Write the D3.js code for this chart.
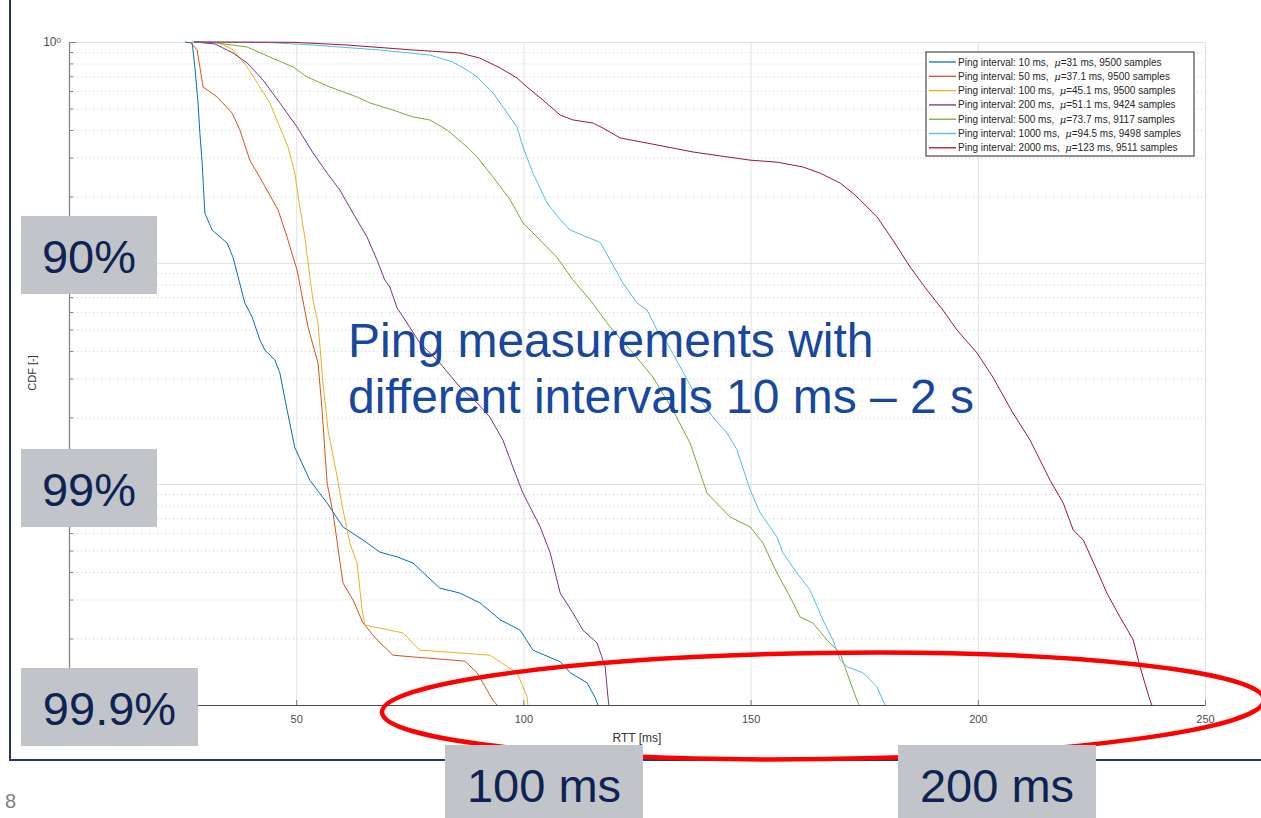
<!DOCTYPE html>
<html>
<head>
<meta charset="utf-8">
<script src="https://cdn.jsdelivr.net/npm/d3@7"></script>
<style>
  body { margin: 0; background: #fff; }
  svg { display: block; font-family: "Liberation Sans", Arial, sans-serif; }
</style>
</head>
<body>
<div id="chart"></div>
<script>
// Data: RTT [ms] vs. 1-CDF (log scale)
var intervals = [10, 50, 100, 200, 500, 1000, 2000];
var means = [31, 37.1, 45.1, 51.1, 73.7, 94.5, 123];
var sampleCounts = [9500, 9500, 9500, 9424, 9117, 9498, 9511];
var xTicks = [50, 100, 150, 200, 250];
var yTicks = [1e-3, 1e-2, 1e-1, 1];

var ping10 = [[25.5,1],[27.1,0.99],[27.7,0.771],[28.4,0.53],[28.8,0.388],[29.3,0.284],[29.9,0.168],[31.5,0.141],[34.8,0.123],[36.1,0.106],[38.7,0.0659],[40.3,0.057],[42.0,0.0449],[43.1,0.0404],[45.3,0.0364],[46.4,0.0318],[48.0,0.0216],[49.7,0.0146],[53.0,0.0104],[56.8,0.0082],[60.3,0.00639],[64.7,0.00558],[68.4,0.00492],[72.2,0.00468],[75.7,0.00439],[81.6,0.00338],[86.0,0.00321],[90.4,0.0029],[94.9,0.00243],[99.3,0.00218],[102.1,0.00177],[108.1,0.00157],[110.3,0.0014],[114.0,0.00126],[115.8,0.00108],[116.4,0.001]];
var ping50 = [[26.6,1],[28.2,0.92],[29.5,0.626],[32.6,0.564],[35.9,0.477],[37.6,0.4],[39.8,0.292],[42.7,0.23],[46.0,0.174],[48.0,0.131],[49.7,0.1],[50.2,0.0929],[52.6,0.0513],[54.8,0.0353],[55.7,0.0216],[56.8,0.0101],[58.1,0.0074],[60.3,0.00356],[62.5,0.00299],[64.7,0.00235],[67.8,0.00197],[71.3,0.00168],[75.7,0.00165],[87.1,0.00158],[89.8,0.0014],[93.3,0.00105],[94.2,0.001]];
var ping100 = [[27.5,1],[33.2,0.99],[36.1,0.92],[39.2,0.771],[42.0,0.626],[44.2,0.53],[46.4,0.412],[48.2,0.335],[49.7,0.255],[50.8,0.179],[51.9,0.131],[53.0,0.0864],[53.7,0.068],[54.8,0.0535],[55.9,0.0286],[57.0,0.0176],[59.0,0.0108],[60.3,0.00763],[61.8,0.00541],[63.4,0.00439],[64.5,0.00269],[65.1,0.0023],[73.5,0.00212],[77.2,0.00177],[86.0,0.00172],[92.6,0.00168],[98.6,0.0014],[100.8,0.00109],[101.0,0.001]];
var ping200 = [[27.5,1],[32.1,0.98],[36.1,0.892],[39.2,0.804],[42.7,0.673],[46.4,0.53],[50.2,0.412],[53.7,0.315],[56.8,0.255],[59.6,0.214],[62.5,0.168],[65.6,0.131],[67.8,0.103],[69.5,0.0838],[70.6,0.0779],[72.2,0.0626],[74.4,0.0535],[77.2,0.0435],[81.6,0.0353],[86.0,0.0275],[89.8,0.0233],[92.6,0.0201],[95.5,0.0158],[97.7,0.0119],[99.9,0.0091],[103.7,0.00639],[105.9,0.00488],[108.1,0.00321],[110.9,0.00261],[113.1,0.00218],[116.2,0.00191],[118.0,0.00149],[118.6,0.00109],[118.8,0.001]];
var ping500 = [[27.5,1],[31.7,0.995],[39.2,0.949],[44.2,0.855],[49.3,0.771],[52.4,0.695],[57.4,0.626],[63.4,0.564],[66.2,0.53],[71.3,0.492],[75.7,0.458],[79.4,0.444],[83.2,0.4],[87.6,0.335],[89.8,0.302],[93.3,0.245],[97.1,0.193],[99.9,0.152],[103.0,0.131],[107.4,0.106],[110.9,0.0838],[114.7,0.068],[119.1,0.0513],[124.1,0.0392],[128.5,0.0305],[132.9,0.0216],[136.7,0.0153],[140.4,0.0091],[145.5,0.00709],[149.9,0.00639],[152.7,0.00541],[155.8,0.00396],[158.7,0.00308],[160.9,0.0025],[163.7,0.00235],[166.8,0.00197],[169.7,0.00172],[171.2,0.0014],[173.4,0.00105],[173.9,0.001]];
var ping1000 = [[27,1],[43.6,0.995],[53.7,0.969],[68.4,0.92],[79.4,0.873],[84.5,0.812],[87.6,0.747],[89.8,0.695],[93.3,0.588],[95.5,0.508],[98.6,0.412],[99.9,0.335],[102.1,0.255],[105.2,0.187],[108.1,0.157],[110.3,0.141],[114.0,0.131],[116.9,0.124],[119.1,0.103],[121.9,0.0812],[125.0,0.0659],[127.2,0.0613],[129.4,0.0498],[131.6,0.0435],[137.3,0.0266],[141.7,0.0201],[144.8,0.017],[147.0,0.0143],[149.9,0.0094],[152.1,0.0074],[155.8,0.00576],[157.1,0.00488],[160.2,0.00396],[163.1,0.00331],[165.9,0.00243],[168.1,0.00197],[169.7,0.0016],[171.2,0.00149],[174.7,0.0014],[177.8,0.00121],[179.1,0.00105],[179.6,0.001]];
var ping2000 = [[27.5,1],[49.3,0.997],[61.2,0.969],[75.7,0.92],[86.0,0.892],[90.4,0.846],[94.9,0.763],[98.6,0.687],[100.8,0.626],[104.3,0.546],[108.1,0.467],[110.9,0.444],[115.3,0.43],[117.5,0.408],[121.3,0.368],[127.2,0.349],[137.3,0.318],[144.8,0.302],[149.9,0.292],[155.8,0.286],[161.5,0.272],[165.3,0.255],[169.7,0.23],[172.5,0.207],[174.1,0.193],[177.8,0.162],[181.3,0.127],[185.1,0.0959],[188.8,0.0755],[192.3,0.0613],[195.4,0.0498],[199.8,0.0392],[203.3,0.0305],[207.7,0.021],[211.5,0.0158],[215.9,0.0104],[218.8,0.0082],[221.0,0.00619],[223.2,0.00558],[226.2,0.00408],[228.4,0.00321],[231.3,0.0025],[234.2,0.00197],[235.7,0.00149],[237.9,0.00105],[238.3,0.001]];

var seriesValues = [ping10, ping50, ping100, ping200, ping500, ping1000, ping2000];
var colors = ["#0072BD", "#D95319", "#EDB120", "#7E2F8E", "#77AC30", "#4DBEEE", "#A2142F"];

var svgWidth = 1261;
var svgHeight = 818;
var margin = { top: 42, left: 69 };
var width = 1136;
var height = 663;

var svg = d3.select("#chart")
  .append("svg")
  .attr("width", svgWidth)
  .attr("height", svgHeight);

// slide frame
svg.append("rect")
  .attr("x", 10).attr("y", -10)
  .attr("width", 1280).attr("height", 770)
  .attr("fill", "none")
  .attr("stroke", "#1f3864")
  .attr("stroke-width", 2);

var chartGroup = svg.append("g")
  .attr("transform", `translate(${margin.left}, ${margin.top})`);

var xScale = d3.scaleLinear().domain([0, 250]).range([0, width]);
var yScale = d3.scaleLog().domain([1e-3, 1]).range([height, 0]);

// minor decade ticks 2..9
var minorTicks = [];
yTicks.slice(0, -1).forEach(function(d) {
  for (var m = 2; m <= 9; m++) minorTicks.push(d * m);
});

// grid
chartGroup.append("g")
  .call(d3.axisLeft(yScale).tickValues(minorTicks).tickSize(-width).tickFormat(""))
  .call(g => g.select(".domain").remove())
  .selectAll("line")
  .attr("stroke", "#cdcdcd")
  .attr("stroke-dasharray", "1,3");

chartGroup.append("g")
  .call(d3.axisLeft(yScale).tickValues(yTicks).tickSize(-width).tickFormat(""))
  .call(g => g.select(".domain").remove())
  .selectAll("line")
  .attr("stroke", "#e2e2e2");

chartGroup.append("g")
  .attr("transform", `translate(0, ${height})`)
  .call(d3.axisBottom(xScale).tickValues(xTicks).tickSize(-height).tickFormat(""))
  .call(g => g.select(".domain").remove())
  .selectAll("line")
  .attr("stroke", "#e2e2e2");

// curves
chartGroup.append("clipPath").attr("id", "clip")
  .append("rect").attr("x", 0).attr("y", -2).attr("width", width).attr("height", height + 2);

var line = d3.line()
  .x(d => xScale(d[0]))
  .y(d => yScale(d[1]));

chartGroup.append("g")
  .attr("clip-path", "url(#clip)")
  .selectAll("path")
  .data(seriesValues)
  .enter()
  .append("path")
  .attr("d", d => line(d))
  .attr("fill", "none")
  .attr("stroke", (d, i) => colors[i])
  .attr("stroke-width", 1);

// axes
var bottomAxis = chartGroup.append("g")
  .attr("transform", `translate(0, ${height})`)
  .call(d3.axisBottom(xScale).tickValues(xTicks).tickSize(-5).tickSizeOuter(0).tickPadding(10));
bottomAxis.select(".domain").attr("stroke", "#4a4a4a");
bottomAxis.selectAll("line").attr("stroke", "#7a7a7a");
bottomAxis.selectAll("text").attr("fill", "#4d4d4d").style("font-size", "11px");

chartGroup.append("g")
  .call(d3.axisLeft(yScale).tickValues(minorTicks).tickSize(-4).tickFormat(""))
  .call(g => g.select(".domain").remove())
  .selectAll("line").attr("stroke", "#808080");

var leftAxis = chartGroup.append("g")
  .call(d3.axisLeft(yScale).tickValues(yTicks).tickSize(-7).tickSizeOuter(0).tickPadding(8).tickFormat(""));
leftAxis.select(".domain").attr("stroke", "#858585").attr("stroke-width", 1.3);
leftAxis.selectAll("line").attr("stroke", "#808080");
// only the 10^0 label is visible on the slide, the others sit under the grey boxes
leftAxis.selectAll(".tick text")
  .filter(d => d === 1)
  .attr("fill", "#4d4d4d")
  .style("font-size", "12px")
  .each(function(d) {
    var t = d3.select(this);
    t.append("tspan").text("10");
    t.append("tspan").attr("dy", "-0.45em").style("font-size", "8px").text(Math.round(Math.log10(d)));
  });

// axis labels
chartGroup.append("text")
  .attr("x", xScale(125))
  .attr("y", height + 37)
  .attr("text-anchor", "middle")
  .attr("fill", "#333")
  .style("font-size", "12px")
  .text("RTT [ms]");

chartGroup.append("text")
  .attr("transform", `translate(${36 - margin.left}, ${373 - margin.top}) rotate(-90)`)
  .attr("text-anchor", "middle")
  .attr("fill", "#333")
  .style("font-size", "11px")
  .text("CDF [-]");

// legend
var legend = svg.append("g").attr("transform", "translate(926, 52)");
legend.append("rect")
  .attr("width", 268).attr("height", 104)
  .attr("fill", "#fff")
  .attr("stroke", "#262626")
  .attr("stroke-width", 1);

var entries = legend.selectAll(".entry")
  .data(intervals)
  .enter()
  .append("g")
  .attr("transform", (d, i) => `translate(0, ${10 + i * 14.3})`);

entries.append("line")
  .attr("x1", 3).attr("x2", 30)
  .attr("stroke", (d, i) => colors[i])
  .attr("stroke-width", 1.3);

var legendText = entries.append("text")
  .attr("x", 32)
  .attr("dy", "0.35em")
  .attr("fill", "#262626")
  .style("font-size", "10px");
legendText.append("tspan").text(d => `Ping interval: ${d} ms,\u00a0 `);
legendText.append("tspan").style("font-style", "italic").style("font-family", "'DejaVu Serif', serif").text("\u03bc");
legendText.append("tspan").text((d, i) => `=${means[i]} ms, ${sampleCounts[i]} samples`);

// slide overlay
svg.append("text")
  .attr("x", 348).attr("y", 357)
  .attr("fill", "#17479e")
  .style("font-size", "48px")
  .text("Ping measurements with");
svg.append("text")
  .attr("x", 348).attr("y", 413)
  .attr("fill", "#17479e")
  .style("font-size", "48px")
  .text("different intervals 10 ms \u2013 2 s");

svg.append("ellipse")
  .attr("cx", 823).attr("cy", 706)
  .attr("rx", 441).attr("ry", 53)
  .attr("transform", "rotate(-0.8, 823, 706)")
  .attr("fill", "none")
  .attr("stroke", "#ff0000")
  .attr("stroke-width", 4.5);

var boxes = [
  { text: "90%", x: 21, y: 216, w: 136, h: 78 },
  { text: "99%", x: 21, y: 449, w: 136, h: 78 },
  { text: "99.9%", x: 21, y: 668, w: 177, h: 78 },
  { text: "100 ms", x: 445, y: 745, w: 198, h: 78 },
  { text: "200 ms", x: 898, y: 745, w: 198, h: 78 }
];
var boxGroups = svg.selectAll(".box")
  .data(boxes)
  .enter()
  .append("g");
boxGroups.append("rect")
  .attr("x", d => d.x).attr("y", d => d.y)
  .attr("width", d => d.w).attr("height", d => d.h)
  .attr("fill", "#c1c4c9");
boxGroups.append("text")
  .attr("x", d => d.x + d.w / 2)
  .attr("y", d => d.y + 57)
  .attr("text-anchor", "middle")
  .attr("fill", "#0e2352")
  .style("font-size", "47px")
  .text(d => d.text);

// page number
svg.append("text")
  .attr("x", 5).attr("y", 808)
  .attr("fill", "#7f7f7f")
  .style("font-size", "20px")
  .text("8");
</script>
</body>
</html>
